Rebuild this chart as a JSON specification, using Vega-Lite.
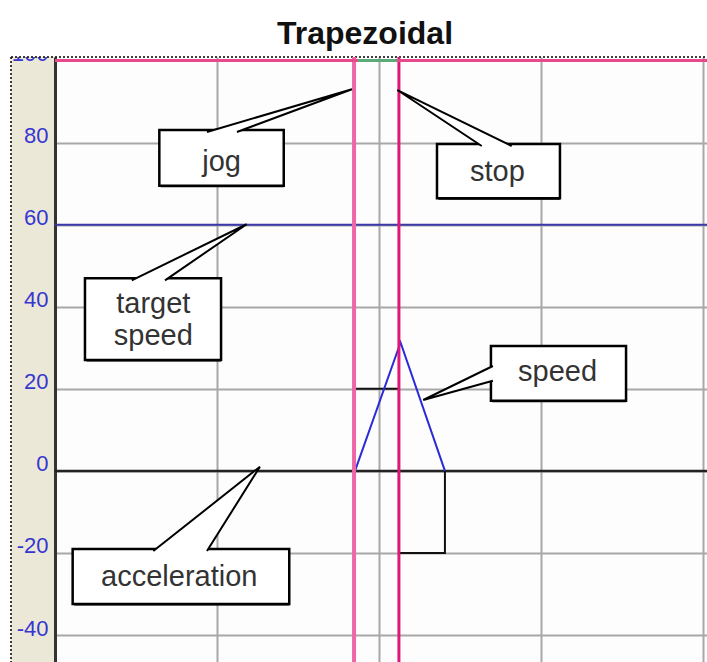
{
  "$schema": "https://vega.github.io/schema/vega-lite/v6.json",
  "autosize": "none",
  "width": 652,
  "height": 605,
  "padding": {"left": 55, "top": 57, "right": 0, "bottom": 0},
  "background": "#ebe8d8",
  "title": {"text": "Trapezoidal", "font": "Liberation Sans", "fontSize": 32, "fontWeight": "bold", "color": "#111111", "anchor": "middle", "baseline": "alphabetic", "offset": -43, "dx": -16, "dy": 33, "zindex": 1},
  "config": {
    "view": {"stroke": null, "fill": "#fdfdfd"},
    "axis": {"gridColor": "#a8a8a8", "gridWidth": 2, "gridOpacity": 1}
  },
  "layer": [
    {
      "data": {"values": [
        {"x": -0.3395, "x2": 4.0247, "y": 100.85, "y2": 114.74},
        {"x": -0.3395, "x2": -0.2716, "y": -46.56, "y2": 100.85}
      ]},
      "mark": {"type": "rect", "fill": "white", "stroke": null},
      "encoding": {
        "x": {"field": "x", "type": "quantitative", "scale": {"domain": [0, 4.0247], "nice": false, "zero": false},
              "axis": {"values": [1, 2, 3, 4], "labels": false, "ticks": false, "domain": false, "title": null, "grid": true}},
        "x2": {"field": "x2"},
        "y": {"field": "y", "type": "quantitative", "scale": {"domain": [-46.56, 100.85], "nice": false, "zero": false},
              "axis": {"values": [-40, -20, 0, 20, 40, 60, 80, 100], "title": null, "grid": true, "ticks": false, "tickSize": 0,
                       "labelExpr": "'' + datum.value",
                       "labelPadding": 7, "labelFont": "Liberation Sans", "labelFontSize": 22, "labelColor": "#3636d0",
                       "labelOffset": -7, "labelBaseline": "middle", "domain": true, "domainColor": "#333333", "domainWidth": 3}},
        "y2": {"field": "y2"}
      }
    },
    {
      "data": {"values": [
        {"x": -0.2716, "x2": 4.0247, "y": 100.85, "y2": 100.85},
        {"x": -0.2716, "x2": -0.2716, "y": 100.85, "y2": -46.56}
      ]},
      "mark": {"type": "rule", "color": "#000000", "strokeWidth": 1.5, "strokeDash": [2, 2]},
      "encoding": {
        "x": {"field": "x", "type": "quantitative"}, "x2": {"field": "x2"},
        "y": {"field": "y", "type": "quantitative"}, "y2": {"field": "y2"}
      }
    },
    {
      "data": {"values": [{"series": "target speed", "y": 60}]},
      "mark": {"type": "rule", "color": "#3a3aa8", "strokeWidth": 2},
      "encoding": {"y": {"field": "y", "type": "quantitative"}}
    },
    {
      "data": {"values": [{"series": "zero", "y": 0}]},
      "mark": {"type": "rule", "color": "#222222", "strokeWidth": 2.5},
      "encoding": {"y": {"field": "y", "type": "quantitative"}}
    },
    {
      "data": {"values": [
        {"i": 0, "x": 1.846, "y": 0}, {"i": 1, "x": 1.846, "y": 20}, {"i": 2, "x": 2.123, "y": 20},
        {"i": 3, "x": 2.123, "y": -20}, {"i": 4, "x": 2.407, "y": -20}, {"i": 5, "x": 2.407, "y": 0}
      ]},
      "mark": {"type": "line", "color": "#111111", "strokeWidth": 2},
      "encoding": {"x": {"field": "x", "type": "quantitative"}, "y": {"field": "y", "type": "quantitative"}, "order": {"field": "i"}}
    },
    {
      "data": {"values": [
        {"i": 0, "x": 1.852, "y": 0}, {"i": 1, "x": 2.133, "y": 31.3}, {"i": 2, "x": 2.407, "y": 0}
      ]},
      "mark": {"type": "line", "color": "#2a2ad8", "strokeWidth": 2},
      "encoding": {"x": {"field": "x", "type": "quantitative"}, "y": {"field": "y", "type": "quantitative"}, "order": {"field": "i"}}
    },
    {
      "data": {"values": [{"marker": "jog", "x": 1.846}, {"marker": "stop", "x": 2.123}]},
      "mark": {"type": "rule"},
      "encoding": {
        "x": {"field": "x", "type": "quantitative"},
        "color": {"field": "marker", "type": "nominal", "scale": {"domain": ["jog", "stop"], "range": ["#ef66a6", "#e0167a"]}, "legend": null},
        "strokeWidth": {"field": "marker", "type": "nominal", "scale": {"domain": ["jog", "stop"], "range": [4, 3]}, "legend": null}
      }
    },
    {
      "data": {"values": [{"y": 100}]},
      "mark": {"type": "rule", "color": "#e8488c", "strokeWidth": 3},
      "encoding": {"y": {"field": "y", "type": "quantitative"}}
    },
    {
      "data": {"values": [{"x": 1.870, "x2": 2.111, "y": 100}]},
      "mark": {"type": "rule", "color": "#5aaa7a", "strokeWidth": 3},
      "encoding": {"x": {"field": "x", "type": "quantitative"}, "x2": {"field": "x2"}, "y": {"field": "y", "type": "quantitative"}}
    },
    {
      "data": {"name": "boxes", "values": [
        {"label": "jog", "x": 0.644, "x2": 1.412, "y": 69.49, "y2": 83.07},
        {"label": "stop", "x": 2.358, "x2": 3.117, "y": 66.42, "y2": 79.65},
        {"label": "target speed", "x": 0.185, "x2": 1.025, "y": 27.02, "y2": 46.93},
        {"label": "speed", "x": 2.691, "x2": 3.525, "y": 17.1, "y2": 30.43},
        {"label": "acceleration", "x": 0.109, "x2": 1.446, "y": -32.43, "y2": -19.03}
      ]},
      "layer": [
        {
          "mark": {"type": "rect", "fill": "#000000", "xOffset": 1.5, "yOffset": 1.5},
          "encoding": {"x": {"field": "x", "type": "quantitative"}, "x2": {"field": "x2"}, "y": {"field": "y", "type": "quantitative"}, "y2": {"field": "y2"}}
        },
        {
          "mark": {"type": "rect", "fill": "#ffffff", "stroke": "#000000", "strokeWidth": 2.5},
          "encoding": {"x": {"field": "x", "type": "quantitative"}, "x2": {"field": "x2"}, "y": {"field": "y", "type": "quantitative"}, "y2": {"field": "y2"}}
        }
      ]
    },
    {
      "data": {"values": [
        {"label": "jog", "i": 0, "x": 0.938, "y": 82.58}, {"label": "jog", "i": 1, "x": 1.833, "y": 92.98}, {"label": "jog", "i": 2, "x": 1.123, "y": 82.58},
        {"label": "stop", "i": 0, "x": 2.634, "y": 79.16}, {"label": "stop", "i": 1, "x": 2.113, "y": 92.8}, {"label": "stop", "i": 2, "x": 2.819, "y": 79.16},
        {"label": "target speed", "i": 0, "x": 0.474, "y": 46.44}, {"label": "target speed", "i": 1, "x": 1.183, "y": 60.1}, {"label": "target speed", "i": 2, "x": 0.679, "y": 46.44},
        {"label": "speed", "i": 0, "x": 2.703, "y": 25.56}, {"label": "speed", "i": 1, "x": 2.273, "y": 17.28}, {"label": "speed", "i": 2, "x": 2.703, "y": 21.98},
        {"label": "acceleration", "i": 0, "x": 0.607, "y": -19.52}, {"label": "acceleration", "i": 1, "x": 1.265, "y": 1.02}, {"label": "acceleration", "i": 2, "x": 0.938, "y": -19.52}
      ]},
      "mark": {"type": "line", "stroke": "#000000", "fill": "#ffffff", "strokeWidth": 2, "interpolate": "linear"},
      "encoding": {
        "x": {"field": "x", "type": "quantitative"}, "y": {"field": "y", "type": "quantitative"},
        "detail": {"field": "label", "type": "nominal"}, "order": {"field": "i"}
      }
    },
    {
      "data": {"values": [
        {"label": "jog", "x": 1.028, "y": 75.34},
        {"label": "stop", "x": 2.731, "y": 72.9},
        {"label": "target\nspeed", "x": 0.607, "y": 40.72},
        {"label": "speed", "x": 3.102, "y": 23.98},
        {"label": "acceleration", "x": 0.767, "y": -25.97}
      ]},
      "mark": {"type": "text", "font": "Liberation Sans", "fontSize": 29, "color": "#333333", "align": "center", "baseline": "middle", "lineBreak": "\n", "lineHeight": 32},
      "encoding": {"x": {"field": "x", "type": "quantitative"}, "y": {"field": "y", "type": "quantitative"}, "text": {"field": "label", "type": "nominal"}}
    }
  ]
}
